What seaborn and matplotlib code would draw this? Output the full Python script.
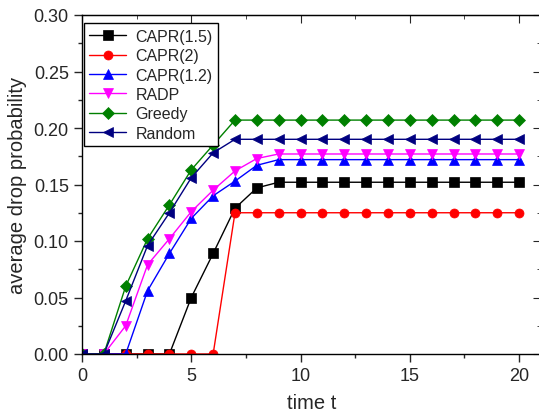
import pandas as pd
import matplotlib
matplotlib.use('Agg')
import matplotlib.pyplot as plt
from matplotlib.ticker import MultipleLocator
import seaborn as sns

# values
t = list(range(21))
capr15 = [0, 0, 0, 0, 0, 0.050, 0.089, 0.129, 0.147] + [0.152] * 12
capr2 = [0, 0, 0, 0, 0, 0, 0, 0.125] + [0.125] * 13
capr12 = [0, 0, 0, 0.056, 0.089, 0.120, 0.140, 0.153, 0.167] + [0.172] * 12
radp = [0, 0, 0.025, 0.079, 0.102, 0.126, 0.145, 0.162, 0.173] + [0.177] * 12
greedy = [0, 0, 0.060, 0.102, 0.132, 0.163, 0.185, 0.207] + [0.207] * 13
rand = [0, 0, 0.047, 0.096, 0.125, 0.156, 0.178, 0.190] + [0.190] * 13

names = ['CAPR(1.5)', 'CAPR(2)', 'CAPR(1.2)', 'RADP', 'Greedy', 'Random']
series = [capr15, capr2, capr12, radp, greedy, rand]
colors = ['black', 'red', 'blue', 'magenta', 'green', 'navy']
markers = ['s', 'o', '^', 'v', 'D', '<']

rows = []
for n, vals in zip(names, series):
    for x, v in zip(t, vals):
        rows.append({'time': x, 'prob': v, 'method': n})
df = pd.DataFrame(rows)

sns.set_style('ticks')
plt.rcParams['font.family'] = ['Liberation Sans', 'DejaVu Sans']

fig = plt.figure(figsize=(5.39, 4.14), dpi=100)
ax = fig.add_axes([82 / 539, 1 - 355 / 414, 459 / 539, 339 / 414])

for n, c, m in zip(names, colors, markers):
    sub = df[df['method'] == n]
    ms = 6.5 if m != 'D' else 6
    sns.lineplot(data=sub, x='time', y='prob', ax=ax, color=c, marker=m,
                 markersize=ms, markeredgewidth=0.5, markeredgecolor=c,
                 linewidth=1, label=n)

ax.set_xlim(0, 21)
ax.set_ylim(0, 0.30)
ax.xaxis.set_major_locator(MultipleLocator(5))
ax.xaxis.set_minor_locator(MultipleLocator(2.5))
ax.yaxis.set_major_locator(MultipleLocator(0.05))
ax.yaxis.set_minor_locator(MultipleLocator(0.025))
ax.yaxis.set_major_formatter(plt.FormatStrFormatter('%.2f'))
ax.tick_params(which='major', direction='out', length=6, width=1, labelsize=13)
ax.tick_params(which='minor', direction='out', length=3, width=1)

for s in ax.spines.values():
    s.set_visible(True)
    s.set_linewidth(1)
    s.set_color('black')

top = ax.secondary_xaxis('top')
top.xaxis.set_major_locator(MultipleLocator(5))
top.xaxis.set_minor_locator(MultipleLocator(2.5))
top.tick_params(which='major', direction='in', length=6, labeltop=False)
top.tick_params(which='minor', direction='in', length=3)
right = ax.secondary_yaxis('right')
right.yaxis.set_major_locator(MultipleLocator(0.05))
right.yaxis.set_minor_locator(MultipleLocator(0.025))
right.tick_params(which='major', direction='in', length=6, labelright=False)
right.tick_params(which='minor', direction='in', length=3)

ax.set_xlabel('time t', fontsize=14.5, labelpad=6)
ax.set_ylabel('average drop probability', fontsize=14.5, labelpad=5)

leg = ax.legend(loc='upper left', bbox_to_anchor=(0.0, 0.98), fontsize=11.5,
                frameon=True, fancybox=False, edgecolor='black', framealpha=1,
                handlelength=2.3, borderpad=0.35, labelspacing=0.27,
                handletextpad=0.6, borderaxespad=0.1)
leg.get_frame().set_linewidth(1)

fig.savefig('out.png', dpi=100)
